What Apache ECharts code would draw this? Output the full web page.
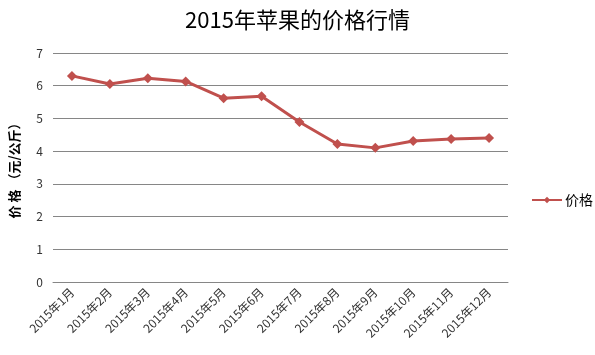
<!DOCTYPE html>
<html>
<head>
<meta charset="utf-8">
<script src="https://cdn.jsdelivr.net/npm/echarts@6/dist/echarts.min.js"></script>
<style>
  html, body { margin: 0; padding: 0; background: #fff; }
  #main { width: 595px; height: 355px; }
</style>
</head>
<body>
<div id="main"></div>
<script>
const months = ['2015年1月', '2015年2月', '2015年3月', '2015年4月', '2015年5月', '2015年6月',
  '2015年7月', '2015年8月', '2015年9月', '2015年10月', '2015年11月', '2015年12月']
const prices = [6.3, 6.05, 6.23, 6.13, 5.62, 5.68, 4.89, 4.22, 4.1, 4.31, 4.37, 4.4]

const font = '"Noto Sans CJK SC", "DejaVu Sans", sans-serif'
const chart = echarts.init(document.getElementById('main'))
chart.setOption({
  animation: false,
  textStyle: { fontFamily: font },
  title: {
    text: '2015年苹果的价格行情',
    left: 'center',
    top: 4,
    textStyle: { fontSize: 22, fontWeight: 'normal', color: '#000', fontFamily: font }
  },
  legend: {
    data: ['价格'],
    orient: 'vertical',
    left: 526,
    top: 188,
    itemWidth: 30,
    itemHeight: 8,
    itemGap: 4,
    textStyle: { fontSize: 14, color: '#000', padding: [0, 0, 0, -2] }
  },
  grid: { left: 52, right: 87, top: 53, bottom: 73, containLabel: false },
  xAxis: {
    type: 'category',
    data: months,
    boundaryGap: true,
    axisLine: { lineStyle: { color: '#868686' } },
    axisTick: { show: false },
    axisLabel: { rotate: 45, fontSize: 12, color: '#333', margin: 8, interval: 0 }
  },
  yAxis: {
    type: 'value',
    min: 0,
    max: 7,
    interval: 1,
    name: '价 格 （元/公斤）',
    nameLocation: 'middle',
    nameGap: 32,
    nameRotate: 90,
    nameTextStyle: { fontSize: 13, fontWeight: 'bold', color: '#000' },
    axisLine: { show: false },
    axisTick: { show: false },
    axisLabel: { fontSize: 12, color: '#333', margin: 10 },
    splitLine: { lineStyle: { color: '#868686', width: 1 } }
  },
  series: [{
    name: '价格',
    type: 'line',
    data: prices,
    symbol: 'diamond',
    symbolSize: 10,
    lineStyle: { color: '#C0504D', width: 3 },
    itemStyle: { color: '#C0504D' }
  }]
})
</script>
</body>
</html>
